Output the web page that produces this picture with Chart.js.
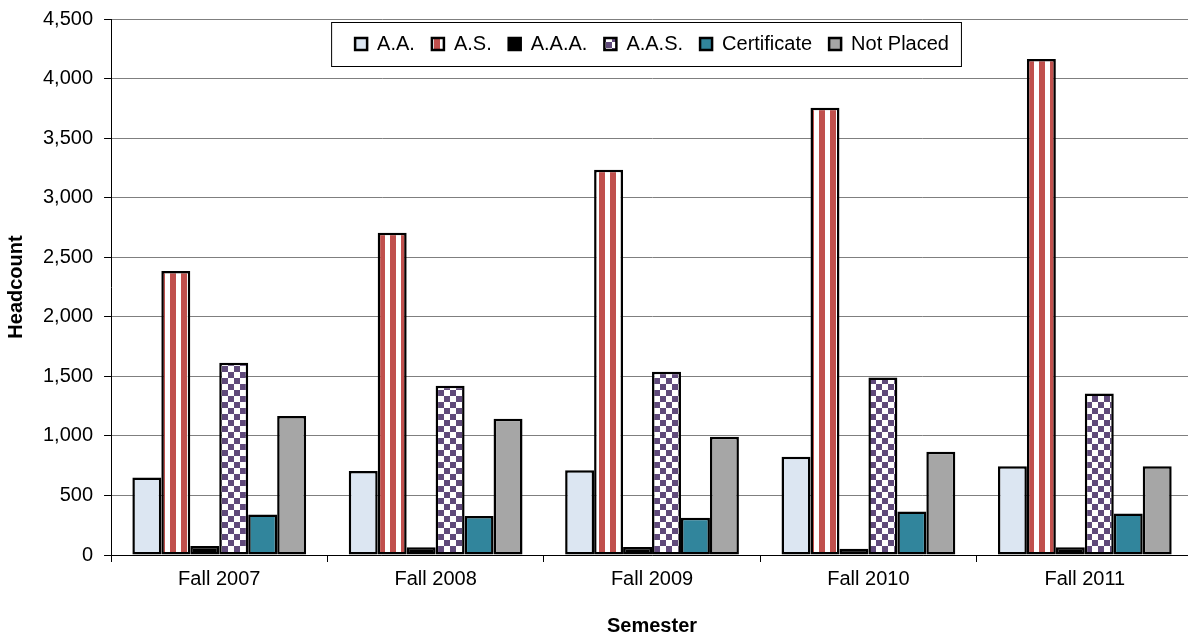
<!DOCTYPE html>
<html>
<head>
<meta charset="utf-8">
<script src="https://cdn.jsdelivr.net/npm/chart.js@4"></script>
<style>
  html, body { margin: 0; padding: 0; background: #fff; overflow: hidden; }
  #wrap { width: 1196px; height: 636px; }
</style>
</head>
<body>
<div id="wrap"><canvas id="chartHeadcount"></canvas></div>
<script>
let semesters = ["Fall 2007", "Fall 2008", "Fall 2009", "Fall 2010", "Fall 2011"];
let seriesNames = ["A.A.", "A.S.", "A.A.A.", "A.A.S.", "Certificate", "Not Placed"];

let aa = [650, 705, 712, 825, 745];
let as = [2385, 2705, 3235, 3755, 4165];
let aaa = [75, 65, 68, 52, 65];
let aas = [1615, 1420, 1538, 1490, 1355];
let certificate = [340, 328, 312, 365, 348];
let notPlaced = [1168, 1143, 992, 866, 745];

let yTicks = [0, 500, 1000, 1500, 2000, 2500, 3000, 3500, 4000, 4500];

// fill patterns like the old excel chart
function stripePattern() {
  let c = document.createElement("canvas");
  c.width = 11;
  c.height = 4;
  let x = c.getContext("2d");
  x.fillStyle = "#ffffff";
  x.fillRect(0, 0, 11, 4);
  x.fillStyle = "#c0504d";
  x.fillRect(5, 0, 6, 4);
  return x.createPattern(c, "repeat");
}

function checkerPattern() {
  let c = document.createElement("canvas");
  c.width = 12;
  c.height = 12;
  let x = c.getContext("2d");
  x.fillStyle = "#ffffff";
  x.fillRect(0, 0, 12, 12);
  x.fillStyle = "#604a7b";
  x.fillRect(0, 0, 6, 6);
  x.fillRect(6, 6, 6, 6);
  return x.createPattern(c, "repeat");
}

let fills = ["#dce6f2", stripePattern(), "#000000", checkerPattern(), "#31859c", "#a6a6a6"];
let values = [aa, as, aaa, aas, certificate, notPlaced];

let font = "'Liberation Sans', Arial, sans-serif";

// legend sits inside the plot, with a framed box around it
let legendInside = {
  id: "legendInside",
  afterLayout(chart) {
    let lg = chart.legend;
    lg.top = 17;
    lg.height = 60;
    lg.bottom = 77;
  },
  beforeDraw(chart) {
    let lg = chart.legend;
    let boxes = lg.legendHitBoxes;
    if (!boxes || !boxes.length) return;
    let left = boxes[0].left;
    let last = boxes[boxes.length - 1];
    let right = last.left + last.width;
    let ctx = chart.ctx;
    ctx.save();
    ctx.fillStyle = "#ffffff";
    ctx.strokeStyle = "#000000";
    ctx.lineWidth = 1;
    ctx.fillRect(left - 24, 22, right - left + 36, 44);
    ctx.strokeRect(left - 24 + 0.5, 22.5, right - left + 36, 44);
    ctx.restore();
  },
};

new Chart(document.getElementById("chartHeadcount").getContext("2d"), {
  type: "bar",
  data: {
    labels: semesters,
    datasets: seriesNames.map((name, i) => ({
      label: name,
      data: values[i],
      backgroundColor: fills[i],
      borderColor: "#000000",
      borderWidth: 2.5,
      borderSkipped: false,
      categoryPercentage: 0.803,
      barPercentage: 1.0,
    })),
  },
  options: {
    responsive: true,
    maintainAspectRatio: false,
    animation: false,
    layout: { padding: { left: 4, right: 3, top: 0, bottom: -2 } },
    plugins: {
      tooltip: { enabled: false },
      legend: {
        position: "top",
        fullSize: false,
        maxHeight: 1,
        labels: {
          boxWidth: 12,
          boxHeight: 12,
          padding: 17,
          color: "#000",
          font: { family: font, size: 20 },
        },
      },
    },
    scales: {
      x: {
        grid: {
          drawOnChartArea: false,
          offset: true,
          tickLength: 7,
          tickColor: "#000",
        },
        border: { color: "#000", width: 1 },
        ticks: { color: "#000", padding: 5, font: { family: font, size: 20 } },
        title: {
          display: true,
          text: "Semester",
          color: "#000",
          padding: { top: 18, bottom: 0 },
          font: { family: font, size: 20, weight: "bold" },
        },
      },
      y: {
        min: 0,
        max: 4500,
        afterBuildTicks: (axis) => {
          axis.ticks = yTicks.map((v) => ({ value: v }));
        },
        afterFit: (axis) => {
          axis.paddingTop = 19;
        },
        grid: {
          color: "#7f7f7f",
          lineWidth: 1,
          tickLength: 7,
          tickColor: "#000",
        },
        border: { color: "#000", width: 1 },
        ticks: {
          color: "#000",
          padding: 11,
          font: { family: font, size: 20 },
          callback: (v) => v.toLocaleString("en-US"),
        },
        title: {
          display: true,
          text: "Headcount",
          color: "#000",
          padding: { top: 0, bottom: 4 },
          font: { family: font, size: 20, weight: "bold" },
        },
      },
    },
  },
  plugins: [legendInside],
});
</script>
</body>
</html>
